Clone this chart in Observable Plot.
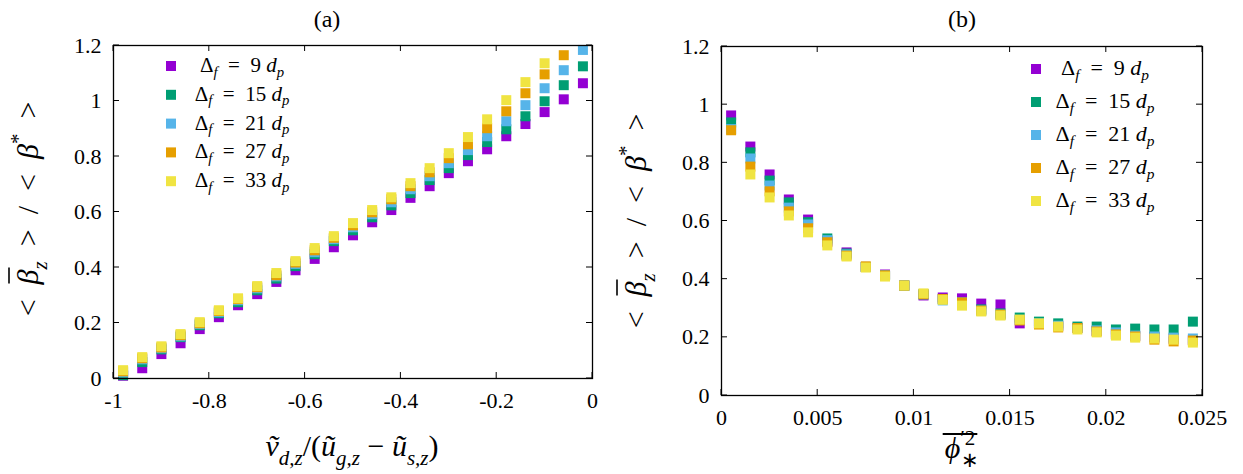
<!DOCTYPE html>
<html><head><meta charset="utf-8">
<script src="https://cdn.jsdelivr.net/npm/d3@7"></script>
<script src="https://cdn.jsdelivr.net/npm/@observablehq/plot@0.6"></script>
<style>
html,body{margin:0;padding:0;background:#fff;}
#wrap{position:relative;width:1243px;height:474px;overflow:hidden;background:#fff;}
#wrap svg{position:absolute;top:0;}
</style></head><body><div id="wrap"></div>
<script>
// ---------- data ----------
const seriesNames = ["9", "15", "21", "27", "33"];
const seriesColors = ["#9400d3", "#009e73", "#56b4e9", "#e69f00", "#f0e442"];

// panel (a): x = v_dz/(u_gz - u_sz)
const xA = [-0.98, -0.94, -0.90, -0.86, -0.82, -0.78, -0.74, -0.70, -0.66, -0.62, -0.58, -0.54, -0.50,
            -0.46, -0.42, -0.38, -0.34, -0.30, -0.26, -0.22, -0.18, -0.14, -0.10, -0.06, -0.02];
const a9  = [0.010, 0.037, 0.088, 0.127, 0.178, 0.221, 0.264, 0.304, 0.348, 0.390, 0.431, 0.473, 0.516,
             0.563, 0.607, 0.651, 0.693, 0.740, 0.783, 0.826, 0.873, 0.917, 0.960, 1.006, 1.064];
const a15 = [0.012, 0.059, 0.105, 0.149, 0.192, 0.235, 0.275, 0.318, 0.360, 0.405, 0.448, 0.495, 0.534,
             0.581, 0.624, 0.668, 0.715, 0.758, 0.805, 0.852, 0.898, 0.945, 0.999, 1.057, 1.125];
const a21 = [0.022, 0.069, 0.109, 0.152, 0.196, 0.239, 0.282, 0.325, 0.368, 0.413, 0.455, 0.502, 0.545,
             0.592, 0.635, 0.682, 0.729, 0.776, 0.823, 0.873, 0.927, 0.985, 1.046, 1.111, 1.184];
const a27 = [0.026, 0.073, 0.112, 0.156, 0.199, 0.243, 0.286, 0.329, 0.372, 0.418, 0.462, 0.507, 0.552,
             0.599, 0.646, 0.693, 0.743, 0.794, 0.844, 0.902, 0.963, 1.028, 1.096, 1.165, null];
const a33 = [0.030, 0.077, 0.116, 0.160, 0.203, 0.246, 0.289, 0.333, 0.380, 0.423, 0.470, 0.513, 0.560,
             0.607, 0.653, 0.704, 0.758, 0.812, 0.870, 0.934, 1.003, 1.068, 1.136, null, null];

// panel (b): x = mean phi'^2
const xB = [0.0005, 0.0015, 0.0025, 0.0035, 0.0045, 0.0055, 0.0065, 0.0075, 0.0085, 0.0095, 0.0105, 0.0115, 0.0125,
            0.0135, 0.0145, 0.0155, 0.0165, 0.0175, 0.0185, 0.0195, 0.0205, 0.0215, 0.0225, 0.0235, 0.0245];
const b9  = [0.963, 0.856, 0.760, 0.674, 0.605, 0.530, 0.492, 0.442, 0.416, 0.378, 0.344, 0.337, 0.334,
             0.316, 0.313, 0.248, 0.248, 0.240, 0.232, 0.222, 0.212, 0.205, 0.200, 0.195, 0.190];
const b15 = [0.939, 0.836, 0.739, 0.664, 0.596, 0.540, 0.488, 0.442, 0.413, 0.378, 0.348, 0.332, 0.320,
             0.296, 0.282, 0.268, 0.254, 0.248, 0.237, 0.237, 0.227, 0.230, 0.227, 0.227, 0.254];
const b21 = [0.916, 0.815, 0.722, 0.646, 0.588, 0.534, 0.485, 0.442, 0.413, 0.378, 0.348, 0.327, 0.320,
             0.292, 0.278, 0.260, 0.248, 0.240, 0.232, 0.224, 0.217, 0.206, 0.203, 0.199, 0.196];
const b27 = [0.912, 0.787, 0.702, 0.633, 0.575, 0.527, 0.481, 0.444, 0.413, 0.378, 0.348, 0.332, 0.320,
             0.292, 0.278, 0.258, 0.244, 0.234, 0.232, 0.220, 0.210, 0.203, 0.192, 0.186, 0.189];
const b33 = [null, 0.760, 0.681, 0.619, 0.561, 0.516, 0.478, 0.440, 0.409, 0.378, 0.351, 0.329, 0.309,
             0.289, 0.275, 0.261, 0.248, 0.237, 0.227, 0.217, 0.206, 0.199, 0.196, 0.192, 0.182];

const ticksXA = [-1, -0.8, -0.6, -0.4, -0.2, 0];
const ticksXB = [0, 0.005, 0.01, 0.015, 0.02, 0.025];
const ticksY  = [0, 0.2, 0.4, 0.6, 0.8, 1, 1.2];

function longData(xs, arrays) {
  const out = [];
  arrays.forEach((ys, k) => ys.forEach((y, i) => {
    if (y != null) out.push({x: xs[i], y, series: seriesNames[k]});
  }));
  return out;
}

const FONT = "Liberation Serif";

function panel({width, height, mL, mR, mT, mB, xDomain, xTicks, data}) {
  return Plot.plot({
    width, height,
    marginLeft: mL, marginRight: mR, marginTop: mT, marginBottom: mB,
    x: {domain: xDomain},
    y: {domain: [0, 1.2]},
    color: {domain: seriesNames, range: seriesColors},
    style: {fontFamily: FONT, fontSize: "22px", color: "black", background: "white", overflow: "visible"},
    marks: [
      Plot.axisX(xTicks, {anchor: "bottom", tickSize: 0, tickPadding: 14, label: null, tickFormat: d => String(d)}),
      Plot.axisY(ticksY, {anchor: "left", tickSize: 0, tickPadding: 12, label: null, tickFormat: d => String(d)}),
      Plot.dot(data, {x: "x", y: "y", fill: "series", symbol: "square", r: 5.64}),
      Plot.frame({stroke: "black", strokeWidth: 1.3})
    ]
  });
}

// inward, mirrored tick marks drawn with the plot's own scales
function innerTicks(svg, xTicks) {
  const sx = svg.scale("x"), sy = svg.scale("y");
  const [x0, x1] = sx.range, [y0, y1] = sy.range; // y0 bottom, y1 top
  const g = d3.select(svg).append("g").attr("stroke", "black").attr("stroke-width", 1);
  for (const v of xTicks) {
    const x = sx.apply(v);
    g.append("line").attr("x1", x).attr("x2", x).attr("y1", y0).attr("y2", y0 - 6);
    g.append("line").attr("x1", x).attr("x2", x).attr("y1", y1).attr("y2", y1 + 6);
  }
  for (const v of ticksY) {
    const y = sy.apply(v);
    g.append("line").attr("x1", x0).attr("x2", x0 + 6).attr("y1", y).attr("y2", y);
    g.append("line").attr("x1", x1).attr("x2", x1 - 6).attr("y1", y).attr("y2", y);
  }
}

function mathText(g, parts, {x, y, size, anchor = "middle", rotate = 0, subShift = 0.3}) {
  const t = g.append("text")
    .attr("transform", `translate(${x},${y}) rotate(${rotate})`)
    .attr("text-anchor", anchor)
    .attr("font-family", FONT)
    .attr("font-size", size)
    .attr("fill", "black")
    .style("white-space", "pre");
  let shift = 0;
  const spans = [];
  for (const p of parts) {
    const s = p.sub ? size * subShift : p.sup ? -size * 0.42 : 0;
    const ts = t.append("tspan").text(p.t).attr("dy", s - shift);
    if (p.dx) ts.attr("dx", p.dx);
    shift = s;
    if (p.i) ts.attr("font-style", "italic");
    if (p.sub || p.sup) ts.attr("font-size", size * 0.7);
    spans.push(ts);
  }
  return {t, spans};
}

// overline over a tspan, measured from the rendered text
function overline(g, x, y, rotate, node, lift, width) {
  const n = node.getNumberOfChars();
  const a = node.getStartPositionOfChar(0), b = node.getEndPositionOfChar(n - 1);
  const ext = node.getExtentOfChar(0);
  const top = ext.y - lift;
  g.append("line")
    .attr("transform", `translate(${x},${y}) rotate(${rotate})`)
    .attr("x1", a.x + 1).attr("x2", b.x + (width || 0))
    .attr("y1", top).attr("y2", top)
    .attr("stroke", "black").attr("stroke-width", 1.6);
}

function legend(svg, {mx, tx, y0, dy, size}) {
  const g = d3.select(svg).append("g");
  seriesNames.forEach((name, k) => {
    const y = y0 + k * dy;
    g.append("rect").attr("x", mx - 5).attr("y", y - 5).attr("width", 10).attr("height", 10)
      .attr("fill", seriesColors[k]);
    mathText(g, [
      {t: "Δ"}, {t: "f", i: 1, sub: 1}, {t: "  =  " + name + " "}, {t: "d", i: 1}, {t: "p", i: 1, sub: 1}
    ], {x: tx, y: y + 6, size, subShift: 0.22});
  });
}

const yLabelParts = [
  {t: "<  "}, {t: "β", i: 1}, {t: "z", i: 1, sub: 1}, {t: "  >  /  <  "}, {t: "β", i: 1}, {t: "*", sup: 1}, {t: "  >"}
];

function yLabel(g, x, y) {
  const {spans} = mathText(g, yLabelParts, {x, y, size: 30, rotate: -90});
  overline(g, x, y, -90, spans[1].node(), 2, 2);
}

const wrap = document.getElementById("wrap");

// ---------- panel (a) ----------
const dataA = longData(xA, [a9, a15, a21, a27, a33]);
const svgA = panel({width: 620, height: 474, mL: 113, mR: 28, mT: 45, mB: 96,
                    xDomain: [-1, 0], xTicks: ticksXA, data: dataA});
svgA.style.left = "0px";
wrap.append(svgA);
innerTicks(svgA, ticksXA);
{
  const g = d3.select(svgA).append("g");
  g.append("text").attr("x", 327).attr("y", 27).attr("text-anchor", "middle")
    .attr("font-family", FONT).attr("font-size", 24).text("(a)");
  yLabel(g, 38, 209);
  mathText(g, [
    {t: "v\u0303", i: 1}, {t: "d,z", i: 1, sub: 1}, {t: "/("}, {t: "ũ", i: 1}, {t: "g,z", i: 1, sub: 1},
    {t: " − "}, {t: "ũ", i: 1}, {t: "s,z", i: 1, sub: 1}, {t: ")"}
  ], {x: 352, y: 456, size: 30});
}
legend(svgA, {mx: 171, tx: 242, y0: 66, dy: 28.8, size: 21});

// ---------- panel (b) ----------
const dataB = longData(xB, [b9, b15, b21, b27, b33]);
const svgB = panel({width: 623, height: 474, mL: 101, mR: 41, mT: 46, mB: 79,
                    xDomain: [0, 0.025], xTicks: ticksXB, data: dataB});
svgB.style.left = "620px";
wrap.append(svgB);
innerTicks(svgB, ticksXB);
{
  const g = d3.select(svgB).append("g");
  g.append("text").attr("x", 342).attr("y", 27).attr("text-anchor", "middle")
    .attr("font-family", FONT).attr("font-size", 24).text("(b)");
  yLabel(g, 26, 221);
  const {spans} = mathText(g, [
    {t: "ϕ", i: 1}, {t: "′2", sup: 1}, {t: "∗", sub: 1, dx: -14}
  ], {x: 342, y: 458, size: 30});
  // bar over the whole symbol
  const n0 = spans[0].node(), n1 = spans[1].node();
  const a = n0.getStartPositionOfChar(0), b = n1.getEndPositionOfChar(n1.getNumberOfChars() - 1);
  g.append("line").attr("transform", "translate(342,458)")
    .attr("x1", a.x - 2).attr("x2", b.x + 2).attr("y1", -24).attr("y2", -24)
    .attr("stroke", "black").attr("stroke-width", 2);
}
legend(svgB, {mx: 416, tx: 485, y0: 69, dy: 33, size: 22});
</script>
</body></html>
